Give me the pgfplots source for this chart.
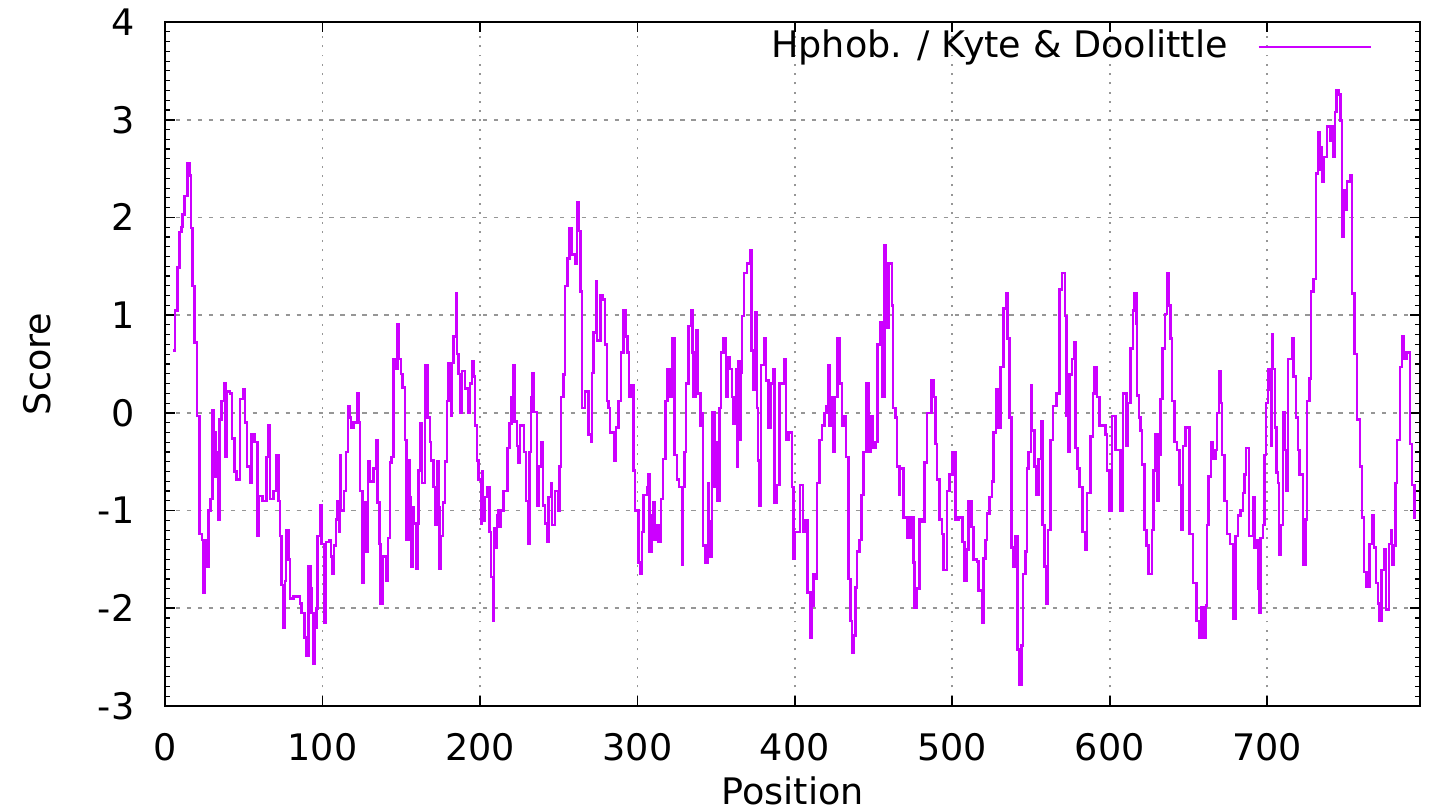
\documentclass[border=0pt]{standalone}
\usepackage{fontspec}
\setmainfont{DejaVu Sans}
\usepackage{pgfplots}
\pgfplotsset{compat=1.18}
\definecolor{kdline}{RGB}{204,0,255}
\definecolor{gridgray}{RGB}{150,150,150}
\newcommand{\lblfont}{\fontsize{13}{15}\selectfont}

\pgfplotstableread{
pos score
5.3 0.64
6.5 1.05
8.0 1.49
9.3 1.85
10.5 1.90
11.2 2.03
12.3 2.22
14.4 2.55
15.5 2.43
16.6 1.89
17.6 1.30
18.8 0.72
20.2 -0.03
22.0 -1.24
23.5 -1.30
24.3 -1.84
25.0 -1.30
26.3 -1.57
27.7 -1.00
29.0 -0.88
30.2 0.03
31.0 -0.20
32.0 -0.65
33.0 -0.40
33.9 -1.09
34.5 -0.07
36.0 0.12
37.5 0.30
38.5 -0.45
39.5 0.22
41.3 0.20
42.4 -0.26
44.0 -0.60
45.5 -0.68
47.6 0.14
49.8 0.24
50.8 -0.10
52.0 -0.55
54.0 -0.72
55.1 -0.22
57.0 -0.30
58.7 -1.26
59.5 -0.85
62.0 -0.90
64.6 -0.45
65.7 -0.13
66.7 -0.88
68.8 -0.80
70.5 -0.43
72.0 -0.90
73.0 -1.26
74.1 -1.76
75.2 -2.20
76.2 -1.72
76.9 -1.20
78.3 -1.50
79.4 -1.90
81.5 -1.88
85.8 -1.95
86.8 -2.05
88.5 -2.30
90.0 -2.49
91.0 -1.57
92.5 -1.80
93.2 -2.05
94.2 -2.57
95.3 -2.20
96.2 -2.00
97.0 -1.26
98.5 -0.95
99.5 -1.34
101.0 -2.15
102.3 -1.32
104.5 -1.30
105.5 -1.47
106.3 -1.65
107.4 -1.36
108.6 -1.09
109.7 -0.90
110.5 -1.22
111.0 -0.43
111.8 -1.00
113.7 -0.80
115.0 -0.40
116.1 0.07
117.0 -0.05
118.0 -0.15
119.6 -0.10
122.2 0.20
123.0 -0.10
123.9 -0.80
125.4 -1.74
126.3 -0.92
128.1 -1.42
128.8 -0.50
130.3 -0.70
132.4 -0.57
134.0 -0.28
135.1 -0.92
136.2 -1.34
137.0 -1.95
138.0 -1.47
140.4 -1.72
141.5 -1.28
143.0 -0.51
144.0 -0.45
145.1 0.55
146.8 0.45
147.8 0.91
148.5 0.55
150.0 0.40
150.8 0.26
152.5 -0.28
153.5 -1.30
154.6 -0.49
155.2 -0.86
156.3 -1.57
157.4 -0.97
158.2 -1.13
159.5 -1.60
160.3 -1.13
161.0 -0.59
162.0 -0.11
163.1 -0.72
165.2 0.49
166.7 -0.05
168.4 -0.30
169.0 -0.49
170.5 -0.76
171.6 -1.15
172.6 -0.50
173.6 -0.97
174.3 -1.60
175.1 -1.26
176.4 -0.92
177.9 -0.50
179.0 0.12
180.0 0.51
181.1 0.24
181.6 -0.03
182.1 0.51
183.2 0.78
184.7 1.22
185.3 0.60
186.4 0.40
187.4 0.00
188.5 0.43
189.6 0.43
190.6 0.25
192.7 0.00
193.8 0.30
194.9 0.53
195.9 0.37
197.0 -0.13
198.0 -0.49
199.1 -0.68
200.6 -1.13
201.2 -0.60
202.0 -1.10
203.3 -0.86
204.8 -0.76
206.0 -1.22
206.9 -1.68
208.2 -2.13
209.0 -1.18
210.0 -1.38
210.7 -1.05
211.8 -1.00
212.4 -1.17
213.3 -1.00
215.0 -0.80
217.5 -0.36
218.7 -0.11
220.2 0.16
221.3 0.49
221.9 -0.09
223.4 -0.34
224.5 -0.51
225.5 -0.13
228.1 -0.40
229.4 -0.90
230.8 -1.34
231.5 -0.40
232.3 0.16
233.0 0.41
234.0 0.01
236.1 -0.95
237.2 -0.55
238.7 -0.30
240.0 -0.95
241.4 -1.13
242.5 -1.32
243.6 -0.86
245.0 -0.72
245.7 -1.15
247.8 -0.80
249.5 -1.00
250.5 -0.55
251.6 0.16
253.1 0.39
254.1 1.30
255.6 1.58
256.9 1.89
258.3 1.62
260.5 1.53
261.5 2.16
262.6 1.86
263.7 1.24
264.7 0.05
266.8 0.22
269.0 -0.22
270.6 -0.30
271.1 0.41
272.1 0.82
273.6 1.35
274.2 0.74
276.4 1.20
277.8 1.16
279.5 0.70
280.6 0.12
281.6 0.05
282.7 -0.20
285.2 -0.49
286.5 -0.15
288.0 0.12
289.5 0.62
291.2 1.05
292.6 0.78
293.7 0.62
294.7 0.16
296.4 0.28
297.5 -0.59
298.6 -1.00
300.7 -1.53
301.7 -1.65
302.8 -1.22
303.9 -0.84
306.0 -0.76
307.0 -0.63
307.7 -1.42
309.2 -1.05
310.0 -0.92
310.7 -1.30
312.4 -1.15
313.4 -1.32
314.9 -0.88
316.2 -0.47
317.7 0.12
319.1 0.45
320.4 0.16
322.3 0.76
323.6 -0.43
325.1 -0.68
326.5 -0.76
328.2 -1.55
328.9 -0.76
329.9 -0.40
330.8 0.30
332.5 0.89
334.2 1.05
335.0 0.62
335.7 0.16
337.2 0.85
338.2 0.20
339.9 -0.13
340.8 0.00
341.6 -1.36
343.1 -1.53
344.8 -0.72
345.2 -1.11
346.2 -1.47
347.3 0.01
348.8 -0.76
350.1 -0.30
350.9 -0.90
352.0 0.05
353.2 0.62
354.7 0.76
356.4 0.16
357.3 0.57
358.5 0.45
360.0 0.16
361.1 -0.11
362.6 0.45
363.2 -0.55
363.8 0.53
364.9 -0.28
365.7 0.41
366.4 0.99
367.8 1.43
369.5 1.53
371.7 1.66
372.3 0.64
373.4 0.24
374.8 1.03
375.9 0.05
376.5 -0.49
377.4 -0.95
378.4 0.49
380.5 0.76
381.8 0.33
383.3 -0.15
384.4 0.30
386.1 0.45
387.1 -0.92
388.6 -0.74
390.3 0.30
393.3 0.55
394.3 -0.28
396.0 -0.20
398.1 -0.76
399.2 -1.49
400.2 -1.22
403.4 -0.74
405.1 -1.22
406.6 -1.10
408.1 -1.84
409.8 -2.30
410.8 -1.97
411.9 -1.65
413.0 -1.70
414.0 -0.72
415.7 -0.28
417.2 -0.13
418.7 0.00
420.0 0.07
421.4 0.49
422.1 -0.13
423.6 0.16
424.2 -0.40
425.3 0.16
427.2 0.76
428.4 0.30
429.9 -0.13
431.4 -0.03
432.4 -0.45
434.1 -1.70
435.2 -2.13
436.2 -2.45
437.3 -2.28
438.4 -1.79
439.4 -1.42
441.1 -1.30
442.2 -0.84
443.7 -0.40
445.4 0.30
446.8 -0.40
447.9 -0.03
449.6 -0.36
451.1 -0.30
452.6 0.70
454.2 0.93
455.3 0.16
456.8 1.72
458.0 0.87
459.5 1.53
461.6 1.10
462.3 0.05
463.8 -0.05
464.8 -0.55
466.3 -0.84
466.9 -0.57
469.1 -1.07
471.6 -1.28
473.3 -1.07
475.4 -1.53
476.0 -1.99
477.5 -1.80
479.2 -1.09
480.7 -1.11
482.2 -0.51
483.9 0.00
486.6 0.33
488.1 0.16
489.2 -0.32
490.2 -0.68
491.9 -1.09
493.4 -1.24
494.5 -1.61
496.6 -0.80
498.3 -0.63
500.2 -0.40
501.9 -1.09
504.0 -1.07
506.6 -1.32
507.8 -1.72
509.3 -1.40
510.4 -0.90
512.1 -1.17
513.6 -1.50
515.7 -1.52
516.7 -1.82
518.9 -2.15
519.9 -1.49
521.0 -1.30
522.0 -1.03
523.7 -0.86
525.2 -0.70
526.3 -0.20
527.8 0.24
528.8 -0.15
530.5 0.47
532.6 1.07
534.3 1.22
535.1 0.76
536.4 -0.05
537.5 -1.38
538.9 -1.57
540.0 -1.26
541.5 -2.42
542.8 -2.78
543.8 -2.38
544.9 -1.65
546.4 -1.42
547.4 -0.57
548.5 -0.40
550.0 0.28
550.6 -0.18
552.1 -0.55
553.4 -0.84
554.8 -0.47
556.3 -0.09
557.4 -1.15
558.4 -1.57
559.5 -1.95
560.6 -1.20
562.3 -0.28
564.0 0.07
566.1 0.20
568.0 1.26
569.7 1.43
571.4 0.99
572.4 -0.03
573.3 -0.40
574.3 0.39
576.0 0.55
577.5 0.72
578.1 -0.36
579.6 -0.57
580.9 -0.76
582.8 -1.22
584.5 -1.40
585.5 -0.82
587.6 -0.24
589.3 0.20
590.4 0.47
591.8 0.16
593.5 -0.13
597.1 -0.22
598.2 -0.59
599.7 -1.00
601.4 -0.03
603.5 -0.38
606.7 -1.00
608.4 0.20
610.5 -0.34
611.4 0.10
613.1 0.66
614.8 1.05
615.6 1.22
616.9 0.91
617.3 0.18
618.4 -0.05
619.4 -0.18
620.5 -0.53
622.0 -1.20
623.2 -1.36
624.7 -1.65
626.8 -1.20
627.9 -0.59
628.9 -0.22
630.4 -0.90
631.1 -0.43
632.1 0.14
633.6 0.66
634.9 1.01
636.3 1.43
637.4 1.10
638.5 0.76
639.5 0.12
641.0 -0.30
642.7 -0.38
644.2 -0.74
645.2 -1.20
646.5 -0.34
648.0 -0.15
650.5 -1.24
652.9 -1.74
655.0 -2.13
656.5 -2.30
658.0 -1.99
659.6 -2.30
661.1 -1.97
661.8 -1.15
662.8 -0.65
664.3 -0.30
665.6 -0.47
667.1 -0.38
668.1 0.00
669.2 0.43
670.2 0.10
671.3 -0.43
672.8 -0.90
674.5 -1.24
676.2 -1.34
678.3 -2.11
679.8 -1.26
681.3 -1.05
683.0 -1.00
684.7 -0.82
685.5 -0.63
686.5 -0.36
688.3 -1.26
691.0 -0.86
691.9 -1.38
693.2 -1.30
694.0 -1.80
694.7 -2.05
695.7 -1.28
697.4 -1.15
698.3 -0.43
699.3 0.10
700.4 0.45
701.6 0.24
702.5 -0.34
703.1 0.80
703.7 0.45
704.8 -0.15
705.8 -0.61
706.7 -0.72
707.3 -1.45
708.4 -1.15
710.1 0.01
710.9 -0.38
712.0 -0.80
713.2 0.55
715.8 0.76
716.8 0.37
718.3 -0.05
719.6 -0.38
720.6 -0.63
722.8 -1.55
724.2 -1.09
725.3 0.12
726.8 0.35
727.8 1.24
729.5 1.37
731.0 2.45
732.3 2.87
733.3 2.49
734.2 2.72
734.8 2.37
735.9 2.62
738.0 2.93
739.7 2.78
740.8 2.93
741.6 2.62
742.9 3.08
743.9 3.30
745.4 3.26
746.5 2.99
747.5 1.80
748.6 2.28
749.0 2.08
750.7 2.37
752.9 2.43
753.9 1.22
755.4 0.60
757.1 -0.07
758.8 -0.55
760.2 -1.07
761.3 -1.63
763.0 -1.78
764.9 -1.34
766.6 -1.05
767.7 -1.38
769.1 -1.74
770.4 -1.95
771.2 -2.13
772.5 -1.61
774.0 -1.40
775.5 -2.01
777.2 -1.34
778.7 -1.20
779.3 -1.55
780.4 -1.36
781.4 -0.72
782.5 -0.28
784.2 0.47
785.7 0.78
786.7 0.55
788.4 0.62
790.5 -0.32
792.0 -0.74
793.5 -1.07
794.2 -1.07
}\kdtable

\begin{document}
\lblfont
\begin{tikzpicture}
\begin{axis}[
  scale only axis,
  width=15.6875cm, height=8.55cm,
  xmin=0, xmax=797, ymin=-3, ymax=4,
  xtick={0,100,...,700}, ytick={-3,-2,...,4},
  minor y tick num=9,
  tick align=inside,
  major tick length=0.13cm, minor tick length=0.06cm,
  every tick/.style={black, line width=0.6pt},
  minor tick style={black, line width=0.4pt},
  axis line style={black, line width=0.8pt},
  /pgf/number format/assume math mode=true,
  every tick label/.append style={font=\lblfont},
  yticklabel style={inner sep=0pt, anchor=east, xshift=-0.375cm},
  xticklabel style={inner sep=0pt, anchor=north, yshift=-0.34cm},
  grid=major,
  major y grid style={gridgray, line width=0.6pt, dash pattern=on 1.5pt off 2.4pt},
  major x grid style={gridgray, line width=0.6pt, dash pattern=on 0.7pt off 2.6pt},
  xlabel={Position}, ylabel={Score},
  every axis x label/.style={at={(axis description cs:0.5,0)}, yshift=-1.06cm, anchor=center, inner sep=0pt, font=\lblfont},
  every axis y label/.style={at={(axis description cs:0,0.5)}, xshift=-1.6cm, rotate=90, anchor=center, inner sep=0pt, font=\lblfont},
  legend plot pos=right,
  legend style={draw=none, fill=none, at={(axis description cs:1,1)}, anchor=north east,
    xshift=-0.49cm, yshift=0.045cm, font=\lblfont, column sep=0.3cm},
  legend image code/.code={\draw[#1] (0cm,0cm) -- (1.4cm,0cm);},
]
\addplot[const plot, kdline, line width=0.9pt] table[x=pos, y=score] {\kdtable};
\addlegendentry{Hphob. / Kyte \& Doolittle}
\coordinate (bl) at (rel axis cs:0,0);
\coordinate (tr) at (rel axis cs:1,1);
\end{axis}
\pgfresetboundingbox
\path ([shift={(-2.0625cm,-1.2875cm)}]bl) rectangle ([shift={(0.15cm,0.275cm)}]tr);
\end{tikzpicture}
\end{document}
